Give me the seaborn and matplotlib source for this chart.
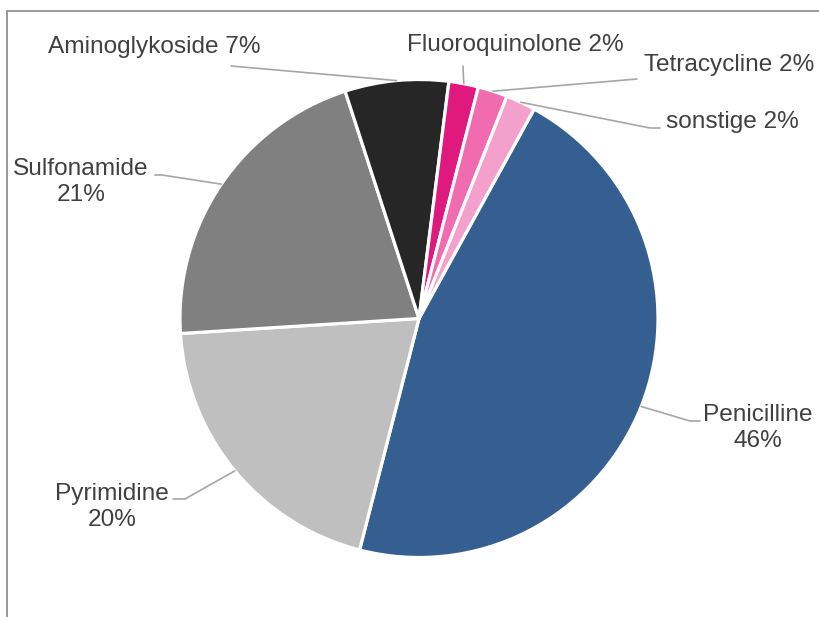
import numpy as np
import matplotlib
matplotlib.use('Agg')
import matplotlib.pyplot as plt
import seaborn as sns

# slice data (clockwise from Penicilline)
labels = ['Penicilline', 'Pyrimidine', 'Sulfonamide', 'Aminoglykoside',
          'Fluoroquinolone', 'Tetracycline', 'sonstige']
shares = [46, 20, 21, 7, 2, 2, 2]
slice_colors = ['#355F91', '#BFBFBF', '#808080', '#262626',
                '#E0197F', '#F06BB0', '#F4A0CD']
two_line = [True, True, True, False, False, False, False]

W, H = 819, 617

# label layout in pixel coords (x, y from top): text anchor, leader start, elbow
label_pos = {
  'Penicilline':     (758, 428, 'center'),
  'Pyrimidine':      (112, 507, 'center'),
  'Sulfonamide':     (81, 182, 'center'),
  'Aminoglykoside':  (154, 53, 'baseline'),
  'Fluoroquinolone': (515, 51, 'baseline'),
  'Tetracycline':    (729, 71, 'baseline'),
  'sonstige':        (732, 128, 'baseline'),
}
leader_pts = {
  'Penicilline':     [(700, 421), (690, 421)],
  'Pyrimidine':      [(173, 499), (185, 499)],
  'Sulfonamide':     [(155, 175), (162, 175)],
  'Aminoglykoside':  [(231, 66)],
  'Fluoroquinolone': [(463, 66)],
  'Tetracycline':    [(637, 79)],
  'sonstige':        [(660, 128), (650, 128)],
}

sns.set_style('white')
plt.rcParams['font.family'] = ['Liberation Sans', 'DejaVu Sans']

fig = plt.figure(figsize=(W / 100, H / 100), dpi=100)
ax = fig.add_axes([0, 0, 1, 1])

cx, cy, r = 419, H - 318.5, 239
wedges, _ = ax.pie(shares, colors=slice_colors, startangle=61.2, counterclock=False,
                   center=(cx, cy), radius=r,
                   wedgeprops=dict(edgecolor='white', linewidth=2.3))

ax.set_xlim(0, W)
ax.set_ylim(0, H)
ax.set_aspect('equal')
ax.axis('off')

# outer frame (partly cut off)
ax.plot([7, W], [H - 11, H - 11], color='#898989', lw=1.2, clip_on=False)
ax.plot([7, 7], [H - 11, 0], color='#898989', lw=1.2, clip_on=False)

text_color = '#404040'
for w, lab, val, tl in zip(wedges, labels, shares, two_line):
  mid = np.deg2rad((w.theta1 + w.theta2) / 2)
  wx, wy = cx + r * np.cos(mid), cy + r * np.sin(mid)
  pts = leader_pts[lab]
  xs = [p[0] for p in pts] + [wx]
  ys = [H - p[1] for p in pts] + [wy]
  ax.plot(xs, ys, color='#A6A6A6', lw=1.2)

  tx, ty, va = label_pos[lab]
  txt = f"{lab}\n{val}%" if tl else f"{lab} {val}%"
  ax.text(tx, H - ty, txt, ha='center', va=va, fontsize=17.6,
          color=text_color, linespacing=1.25)

plt.savefig('out.png', dpi=100)
